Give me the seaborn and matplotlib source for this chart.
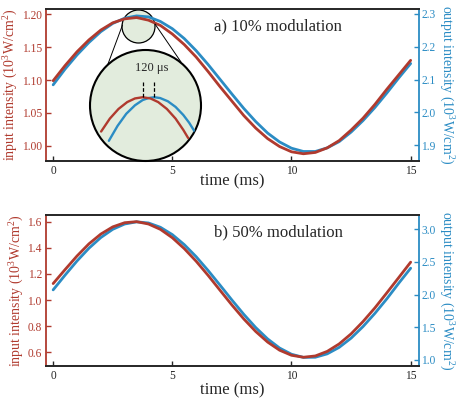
import matplotlib
matplotlib.use("Agg")
import numpy as np
import matplotlib.pyplot as plt
import seaborn as sns
from matplotlib.patches import Circle
from matplotlib.lines import Line2D

time_ms = [0, 0.5, 1, 1.5, 2, 2.5, 3, 3.5, 4, 4.5, 5, 5.5, 6, 6.5, 7, 7.5,
           8, 8.5, 9, 9.5, 10, 10.5, 11, 11.5, 12, 12.5, 13, 13.5, 14, 14.5, 15]

# a) 10% modulation
in_10 = [1.099, 1.122, 1.143, 1.161, 1.176, 1.187, 1.193, 1.195, 1.191, 1.183,
         1.170, 1.154, 1.135, 1.113, 1.090, 1.068, 1.046, 1.027, 1.011, 0.999,
         0.991, 0.988, 0.990, 0.997, 1.008, 1.024, 1.042, 1.063, 1.086, 1.108, 1.130]
out_10 = [2.084, 2.132, 2.175, 2.213, 2.246, 2.271, 2.287, 2.294, 2.291, 2.277,
          2.255, 2.225, 2.188, 2.146, 2.101, 2.056, 2.012, 1.972, 1.937, 1.910,
          1.891, 1.881, 1.881, 1.892, 1.911, 1.940, 1.975, 2.015, 2.059, 2.105, 2.149]

# b) 50% modulation
in_50 = [1.126, 1.233, 1.337, 1.430, 1.505, 1.560, 1.592, 1.600, 1.582, 1.541,
         1.477, 1.394, 1.297, 1.189, 1.075, 0.962, 0.855, 0.759, 0.678, 0.616,
         0.577, 0.562, 0.572, 0.607, 0.664, 0.741, 0.835, 0.940, 1.055, 1.172, 1.290]
out_50 = [2.073, 2.299, 2.515, 2.710, 2.874, 3.000, 3.081, 3.114, 3.097, 3.031,
          2.919, 2.766, 2.581, 2.370, 2.146, 1.918, 1.698, 1.496, 1.322, 1.183,
          1.088, 1.040, 1.042, 1.094, 1.193, 1.334, 1.511, 1.714, 1.936, 2.175, 2.405]

# zoomed peak (inset), time in microseconds relative to input peak, normalised intensity
inset_in_us = [-430, -340, -250, -160, -80, 0, 80, 160, 250, 340, 420, 470]
inset_in = [0.915, 0.947, 0.971, 0.988, 0.997, 1.000, 0.997, 0.988, 0.971, 0.947, 0.919, 0.899]
inset_out_us = [-350, -260, -170, -80, 0, 60, 120, 180, 260, 340, 420, 480, 540]
inset_out = [0.892, 0.929, 0.959, 0.980, 0.993, 0.998, 1.000, 0.998, 0.990, 0.976, 0.956, 0.937, 0.914]
delay_us = [0, 120]

RED = "#b03a2e"
BLUE = "#2b8cc4"
GREEN = "#e2ecdd"

sns.set_style("ticks")
plt.rcParams["font.family"] = ["Liberation Serif", "DejaVu Serif"]
plt.rcParams["mathtext.fontset"] = "custom"
plt.rcParams["mathtext.rm"] = "Liberation Serif"
plt.rcParams["mathtext.it"] = "Liberation Serif:italic"

W, H = 468, 398
fig = plt.figure(figsize=(W / 100, H / 100), dpi=100)


def px(x, y):
    # pixel position (from top-left) -> inches for dpi_scale_trans
    return x / 100, (H - y) / 100


def panel(rect, red, blue, rlim, blim, rticks, bticks, rfmt, bfmt, title, labpad):
    ax = fig.add_axes(rect)
    ax2 = ax.twinx()
    sns.lineplot(x=time_ms, y=blue, ax=ax2, color=BLUE, lw=2)
    sns.lineplot(x=time_ms, y=red, ax=ax, color=RED, lw=2)
    ax.set_zorder(ax2.get_zorder() + 1)
    ax.patch.set_visible(False)

    ax.set_xlim(-0.3, 15.35)
    ax.set_ylim(*rlim)
    ax2.set_ylim(*blim)
    ax.set_xticks([0, 5, 10, 15])
    ax.set_yticks(rticks)
    ax2.set_yticks(bticks)
    ax.set_yticklabels([rfmt % v for v in rticks])
    ax2.set_yticklabels([bfmt % v for v in bticks])

    for s in ["top", "bottom"]:
        ax.spines[s].set_linewidth(1.4)
        ax2.spines[s].set_visible(False)
    ax.spines["right"].set_visible(False)
    ax2.spines["left"].set_visible(False)
    ax.spines["left"].set_color(RED)
    ax.spines["left"].set_linewidth(1.3)
    ax2.spines["right"].set_color(BLUE)
    ax2.spines["right"].set_linewidth(1.3)

    ax.tick_params(axis="x", direction="in", length=3.5, width=1, labelsize=8.3, pad=3)
    ax.tick_params(axis="y", direction="in", length=3.5, width=1, colors=RED, labelsize=8.3, pad=3)
    ax2.tick_params(axis="y", direction="in", length=3.5, width=1, colors=BLUE, labelsize=8.3, pad=1.5)

    ax.set_xlabel("time (ms)", fontsize=12, labelpad=labpad)
    ax.set_ylabel("input intensity (10$^3$W/cm$^2$)", fontsize=10, color=RED, labelpad=1)
    ax2.set_ylabel("output intensity (10$^3$W/cm$^2$)", fontsize=10, color=BLUE,
                   rotation=270, va="bottom", labelpad=1)
    ax.text(0.45, 0.885, title, transform=ax.transAxes, fontsize=12, ha="left", va="center")
    return ax, ax2


ax_a, ax_a2 = panel([46 / W, 1 - 161 / H, 373 / W, 152 / H], in_10, out_10,
                    (0.977, 1.208), (1.852, 2.315),
                    [1.00, 1.05, 1.10, 1.15, 1.20], [1.9, 2.0, 2.1, 2.2, 2.3],
                    "%.2f", "%.1f", "a) 10% modulation", -2.5)
ax_b, ax_b2 = panel([46 / W, 1 - 366 / H, 373 / W, 151 / H], in_50, out_50,
                    (0.495, 1.651), (0.908, 3.219),
                    [0.6, 0.8, 1.0, 1.2, 1.4, 1.6], [1.0, 1.5, 2.0, 2.5, 3.0],
                    "%.1f", "%.1f", "b) 50% modulation", 0)

# small magnifier circle on the peak
ax_a2.add_patch(Circle(px(138.5, 26.5), 0.165, transform=fig.dpi_scale_trans,
                       facecolor=GREEN, edgecolor="black", lw=0.9, zorder=1))

# connector lines
for (x0, y0), (x1, y1) in [((122.5, 25), (108, 64)), ((155, 24), (181, 62))]:
    (a0, b0), (a1, b1) = px(x0, y0), px(x1, y1)
    fig.add_artist(Line2D([a0, a1], [b0, b1], transform=fig.dpi_scale_trans,
                          color="black", lw=0.7))

# zoomed inset
axi = fig.add_axes([90 / W, 1 - 161 / H, 111 / W, 111 / H])
axi.set_zorder(5)
axi.axis("off")
circ = Circle((0.5, 0.5), 0.5, transform=axi.transAxes, facecolor=GREEN,
              edgecolor="black", lw=1.5, zorder=0, clip_on=False)
axi.add_patch(circ)
sns.lineplot(x=inset_out_us, y=inset_out, ax=axi, color=BLUE, lw=1.7)
sns.lineplot(x=inset_in_us, y=inset_in, ax=axi, color=RED, lw=1.7)
for ln in axi.lines:
    ln.set_clip_path(circ)
axi.vlines(delay_us, 1.0, 1.039, colors="black", linestyles=(0, (3, 1.5)), lw=0.9)
axi.text(np.mean(delay_us) + 33, 1.073, "120 μs", ha="center", va="center", fontsize=9)
axi.set_xlim(-545, 603)
axi.set_ylim(0.842, 1.117)

fig.savefig("out.png", dpi=100)
